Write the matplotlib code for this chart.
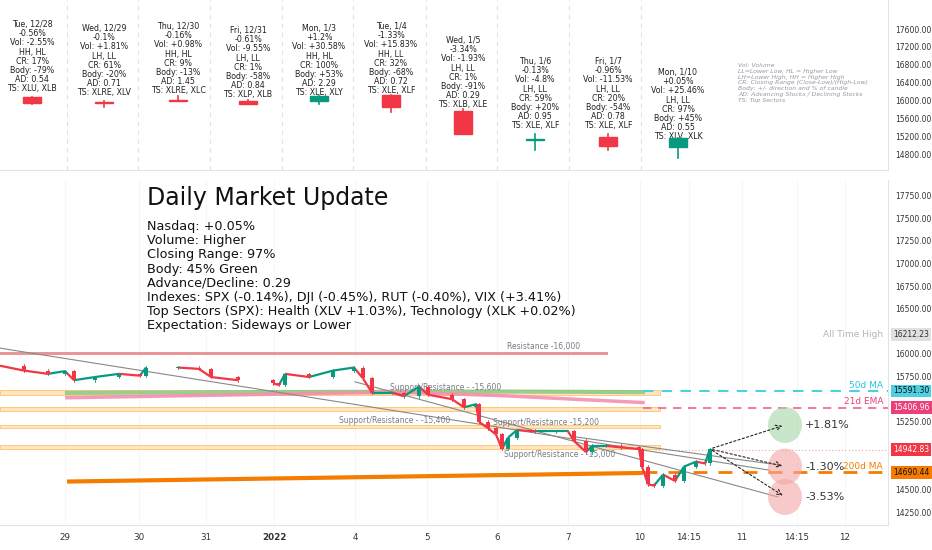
import matplotlib
matplotlib.use("Agg")
import matplotlib.pyplot as plt
from matplotlib.patches import Rectangle, Ellipse
import matplotlib.transforms as mtrans

# ---------------- data ----------------
day_labels = ["Tue, 12/28", "Wed, 12/29", "Thu, 12/30", "Fri, 12/31", "Mon, 1/3",
              "Tue, 1/4", "Wed, 1/5", "Thu, 1/6", "Fri, 1/7", "Mon, 1/10"]
day_chg = ["-0.56%", "-0.1%", "-0.16%", "-0.61%", "+1.2%", "-1.33%", "-3.34%", "-0.13%", "-0.96%", "+0.05%"]
day_vol = ["-2.55%", "+1.81%", "+0.98%", "-9.55%", "+30.58%", "+15.83%", "-1.93%", "-4.8%", "-11.53%", "+25.46%"]
day_hl = ["HH, HL", "LH, LL", "HH, HL", "LH, LL", "HH, HL", "HH, LL", "LH, LL", "LH, LL", "LH, LL", "LH, LL"]
day_cr = ["17%", "61%", "9%", "1%", "100%", "32%", "1%", "59%", "20%", "97%"]
day_body = ["-79%", "-20%", "-13%", "-58%", "+53%", "-68%", "-91%", "+20%", "-54%", "+45%"]
day_ad = ["0.54", "0.71", "1.45", "0.84", "2.29", "0.72", "0.29", "0.95", "0.78", "0.55"]
day_ts = ["XLU, XLB", "XLRE, XLV", "XLRE, XLC", "XLP, XLB", "XLE, XLY", "XLE, XLF",
          "XLB, XLE", "XLE, XLF", "XLE, XLF", "XLV, XLK"]
day_x = [32, 104, 178, 248, 319, 391, 463, 535, 608, 678]
day_open = [16077, 15965, 15995, 15985, 15985, 16120, 15760, 15110, 15180, 14950]
day_close = [15942, 15950, 15990, 15910, 16100, 15850, 15240, 15140, 14980, 15150]
day_high = [16077, 15995, 16110, 16020, 16100, 16120, 15810, 15240, 15240, 15150]
day_low = [15920, 15850, 15990, 15910, 15910, 15740, 15240, 14900, 14900, 14700]
day_text_top = [20, 24, 22, 26, 24, 22, 36, 57, 57, 68]
sep_x = [67, 138, 210, 282, 353, 426, 497, 569, 641]

px_x = [0, 24, 48, 65, 74, 95, 119, 140, 146, 178, 199, 211, 238, 273, 279, 285, 309, 333, 354,
        363, 372, 392, 404, 419, 428, 452, 464, 476, 479, 488, 496, 502, 508, 517, 535, 556, 568,
        574, 586, 592, 606, 621, 639, 642, 648, 654, 663, 675, 684, 696, 705, 710]
px_close = [15870, 15816, 15780, 15810, 15710, 15745, 15780, 15760, 15850, 15850, 15835, 15745,
            15710, 15675, 15657, 15780, 15745, 15816, 15850, 15730, 15570, 15570, 15533, 15640,
            15550, 15500, 15410, 15445, 15250, 15180, 15110, 14950, 15075, 15160, 15145, 15145,
            15145, 15040, 14915, 14985, 14985, 14967, 14950, 14755, 14560, 14545, 14667, 14597,
            14755, 14810, 14790, 14950]

bx_ticks = [65, 139, 206, 274, 355, 427, 497, 568, 640, 689, 742, 797, 845]
bx_labels = ["29", "30", "31", "2022", "4", "5", "6", "7", "10", "14:15", "11", "14:15", "12"]

text_lines = ["Nasdaq: +0.05%", "Volume: Higher", "Closing Range: 97%", "Body: 45% Green",
              "Advance/Decline: 0.29",
              "Indexes: SPX (-0.14%), DJI (-0.45%), RUT (-0.40%), VIX (+3.41%)",
              "Top Sectors (SPX): Health (XLV +1.03%), Technology (XLK +0.02%)",
              "Expectation: Sideways or Lower"]
scen_pct = ["+1.81%", "-1.30%", "-3.53%"]
scen_price = [15215, 14755, 14420]
scen_color = ["#a5d6a7", "#f4a6a6", "#f4a6a6"]

GREEN = "#089981"
RED = "#f23645"
GRAY = "#787b86"

fig = plt.figure(figsize=(9.32, 5.5), dpi=100)
W, H = 932, 550
AW = 888
top = fig.add_axes([0, 1 - 170 / H, AW / W, 170 / H])
bot = fig.add_axes([0, 25 / H, AW / W, 345 / H])

# ---------------- top panel ----------------
top.set_xlim(0, AW)
top.set_ylim(14442, 18250)
for x in sep_x:
    top.axvline(x, color="#e0e0e0", lw=0.8, ls=(0, (4, 4)))
ppx = (18250 - 14442) / 170.0
for i in range(len(day_x)):
    c = GREEN if day_close[i] >= day_open[i] else RED
    top.plot([day_x[i], day_x[i]], [day_low[i], day_high[i]], color=c, lw=1.2, zorder=3)
    lo = min(day_open[i], day_close[i]); hi = max(day_open[i], day_close[i])
    top.add_patch(Rectangle((day_x[i] - 9, lo), 18, max(hi - lo, 25), color=c, zorder=4))
    txt = "\n".join([day_labels[i], day_chg[i], "Vol: " + day_vol[i], day_hl[i], "CR: " + day_cr[i],
                     "Body: " + day_body[i], "AD: " + day_ad[i], "TS: " + day_ts[i]])
    y = 18250 - day_text_top[i] * ppx
    top.text(day_x[i], y, txt, ha="center", va="top", fontsize=5.7, color="#222",
             linespacing=1.03)
legend_txt = ("Vol: Volume\nLL=Lower Low, HL = Higher Low\nLH=Lower High, HH = Higher High\n"
              "CR: Closing Range (Close-Low)/(High-Low)\nBody: +/- direction and % of candle\n"
              "AD: Advancing Stocks / Declining Stocks\nTS: Top Sectors")
top.text(738, 18250 - 63 * ppx, legend_txt, ha="left", va="top", fontsize=4.4, color="#9598a1",
         style="italic", linespacing=1.2)
top.yaxis.tick_right()
tt = [17600, 17200, 16800, 16400, 16000, 15600, 15200, 14800]
top.set_yticks(tt)
top.set_yticklabels(["%.2f" % v for v in tt], fontsize=5.5, color="#333")
top.tick_params(axis="y", length=0, pad=5)
top.set_xticks([])
for s in ["top", "left"]:
    top.spines[s].set_visible(False)
top.spines["bottom"].set_color("#e0e3eb")
top.spines["right"].set_color("#e0e3eb")

# ---------------- bottom panel ----------------
bot.set_xlim(0, AW)
bot.set_ylim(14110, 17922)
for x in bx_ticks:
    bot.axvline(x, color="#f5f5f5", lw=0.6, zorder=0)

bot.text(147, 17855, "Daily Market Update", fontsize=17, va="top", ha="left", color="#111")
bot.text(147, 17480, "\n".join(text_lines), fontsize=9.2, va="top", ha="left", color="#111",
         linespacing=1.12)

bot.add_patch(Rectangle((0, 15985), 608, 35, color="#e57373", alpha=0.75, lw=0, zorder=1))
bot.text(544, 16035, "Resistance -16,000", fontsize=5.5, color=GRAY, ha="center", va="bottom")
for lo, hi in [(15550, 15605), (15375, 15415), (15180, 15218), (14950, 14998)]:
    bot.add_patch(Rectangle((0, lo), 660, hi - lo, facecolor="#ffe0b2", edgecolor="#ffb74d",
                            lw=0.6, alpha=0.8, zorder=1))
bot.plot([67, 300, 500, 643], [15570, 15580, 15585, 15578], color="#81c784", lw=3, alpha=0.8, zorder=2)
bot.plot([67, 300, 400, 500, 643], [15516, 15560, 15578, 15540, 15463], color="#f48fb1", lw=2.5,
         alpha=0.9, zorder=2)
bot.plot([67, 643], [14590, 14685], color="#f57c00", lw=3, zorder=2, solid_capstyle="butt")
bot.plot([643, AW], [15591.3, 15591.3], color="#4dd0e1", lw=1.5, ls=(0, (5, 4)))
bot.plot([643, AW], [15406.96, 15406.96], color="#f06292", lw=1.2, ls=(0, (5, 4)))
bot.plot([643, AW], [14690.44, 14690.44], color="#f57c00", lw=2, ls=(0, (5, 4)))
bot.plot([655, AW], [14942.83, 14942.83], color="#f4a6a6", lw=0.8, ls=(0, (1, 2)))
bot.text(883, 15605, "50d MA", color="#26c6da", fontsize=6.5, ha="right", va="bottom")
bot.text(883, 15420, "21d EMA", color="#ec407a", fontsize=6.5, ha="right", va="bottom")
bot.text(883, 14705, "200d MA", color="#f57c00", fontsize=6.5, ha="right", va="bottom")
bot.text(883, 16212, "All Time High", color="#b2b5be", fontsize=6.5, ha="right", va="center")

bot.plot([0, 770], [16064, 14715], color="#888", lw=0.8, zorder=2)
bot.plot([355, 778], [15692, 14420], color="#888", lw=0.8, zorder=2)
bot.plot([571, 779], [15090, 14773], color="#888", lw=0.8, zorder=2)

for x, y, t in [(446, 15625, "Support/Resistance - -15,600"), (395, 15260, "Support/Resistance - -15,400"),
                (546, 15245, "Support/Resistance -15,200"), (560, 14890, "Support/Resistance - -15,000")]:
    bot.text(x, y, t, fontsize=5.5, color=GRAY, ha="center", va="center", zorder=3)

for i in range(1, len(px_x)):
    o, c = px_close[i - 1], px_close[i]
    col = GREEN if c >= o else RED
    if px_x[i] - px_x[i - 1] < 30:
        bot.plot([px_x[i - 1], px_x[i]], [o, c], color=col, lw=1.6, zorder=4, solid_capstyle="butt")
    lo, hi = min(o, c), max(o, c)
    bot.plot([px_x[i], px_x[i]], [lo - 15, hi + 15], color=col, lw=0.6, zorder=4)
    bot.add_patch(Rectangle((px_x[i] - 1.6, lo), 3.2, max(hi - lo, 8), color=col, zorder=5, lw=0))

sx = 785
ypp = (17922 - 14110) / 345.0
for p, pr, col in zip(scen_pct, scen_price, scen_color):
    bot.add_patch(Ellipse((sx, pr), 34, 36 * ypp, color=col, alpha=0.6, zorder=3, lw=0))
    bot.text(805, pr, p, fontsize=8, color="#333", ha="left", va="center")
for pr in scen_price:
    bot.annotate("", xy=(sx, pr), xytext=(710, 14950),
                 arrowprops=dict(arrowstyle="->", ls=(0, (2, 2)), color="#222", lw=0.8), zorder=6)

bot.yaxis.tick_right()
yt = [17750, 17500, 17250, 17000, 16750, 16500, 16000, 15750, 15250, 14500, 14250]
bot.set_yticks(yt)
bot.set_yticklabels(["%.2f" % v for v in yt], fontsize=5.5, color="#333")
bot.tick_params(axis="y", length=0, pad=5)
bot.set_xticks(bx_ticks)
bot.set_xticklabels(bx_labels, fontsize=6.3, color="#333")
for lab in bot.get_xticklabels():
    if lab.get_text() == "2022":
        lab.set_fontweight("bold")
bot.tick_params(axis="x", length=0, pad=6)
for s in ["top", "left"]:
    bot.spines[s].set_visible(False)
bot.spines["right"].set_color("#e0e3eb")
bot.spines["bottom"].set_color("#e0e3eb")

tr = mtrans.blended_transform_factory(bot.transAxes, bot.transData)
for v, fc, tc in [(16212.23, "#e0e0e0", "#333"), (15591.30, "#4dd0e1", "#111"),
                  (15406.96, "#ec407a", "white"), (14942.83, "#f23645", "white"),
                  (14690.44, "#f57c00", "#111")]:
    bot.text(1.006, v, "%.2f" % v, transform=tr, fontsize=5.5, color=tc, ha="left", va="center",
             bbox=dict(boxstyle="square,pad=0.25", fc=fc, ec="none"), clip_on=False, zorder=10)

fig.savefig("out.png", dpi=100, facecolor="white")
